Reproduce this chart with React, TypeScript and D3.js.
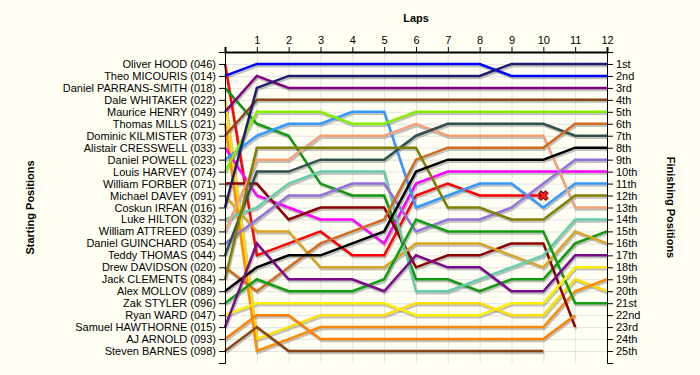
import React, { useEffect, useRef } from "react";
import * as d3 from "d3";

const drivers = [
  "Oliver HOOD (046)", "Theo MICOURIS (014)", "Daniel PARRANS-SMITH (018)", "Dale WHITAKER (022)",
  "Maurice HENRY (049)", "Thomas MILLS (021)", "Dominic KILMISTER (073)", "Alistair CRESSWELL (033)",
  "Daniel POWELL (023)", "Louis HARVEY (074)", "William FORBER (071)", "Michael DAVEY (091)",
  "Coskun IRFAN (016)", "Luke HILTON (032)", "William ATTREED (039)", "Daniel GUINCHARD (054)",
  "Teddy THOMAS (044)", "Drew DAVIDSON (020)", "Jack CLEMENTS (084)", "Alex MOLLOV (089)",
  "Zak STYLER (096)", "Ryan WARD (047)", "Samuel HAWTHORNE (015)", "AJ ARNOLD (093)", "Steven BARNES (098)",
];

const driverColors = [
  "#ff0000", "#0000ff", "#0f990f", "#ffdd00", "#800080", "#ff8a00", "#8b4513", "#ff00ff",
  "#3399ff", "#88ee00", "#8b0000", "#daa520", "#1c1c70", "#66cdaa", "#f4a07a", "#9370db",
  "#2f4f4f", "#d2691e", "#808000", "#000000", "#119f11", "#ffee00", "#7a0a8a", "#ff8000", "#8b4513",
];

// Position of each driver at laps 0..n (index = lap)
const hood = [1, 17, 16, 15, 17, 17, 12, 11, 12, 12, 12];
const micouris = [2, 1, 1, 1, 1, 1, 1, 1, 1, 2, 2, 2, 2];
const parransSmith = [3, 6, 7, 11, 12, 12, 19, 19, 20, 19, 19, 16, 15];
const whitaker = [4, 24, 23, 22, 22, 22, 21, 21, 21, 22, 22, 19, 20];
const henry = [5, 2, 3, 3, 3, 3, 3, 3, 3, 3, 3, 3, 3];
const mills = [6, 25, 24, 23, 23, 23, 23, 23, 23, 23, 23, 20, 19];
const kilmister = [7, 4, 4, 4, 4, 4, 4, 4, 4, 4, 4, 4, 4];
const cresswell = [8, 12, 13, 14, 14, 16, 11, 10, 10, 10, 10, 10, 10];
const powell = [9, 7, 6, 6, 5, 5, 13, 12, 11, 11, 13, 11, 11];
const harvey = [10, 5, 5, 5, 6, 6, 5, 5, 5, 5, 5, 5, 5];
const forber = [11, 11, 14, 13, 13, 13, 18, 17, 17, 16, 16, 23];
const davey = [12, 15, 15, 18, 18, 18, 16, 16, 16, 17, 18, 15, 16];
const irfan = [13, 3, 2, 2, 2, 2, 2, 2, 2, 1, 1, 1, 1];
const hilton = [14, 13, 11, 10, 10, 10, 20, 20, 19, 18, 17, 14, 14];
const attreed = [15, 9, 9, 7, 7, 7, 6, 7, 7, 7, 7, 13, 13];
const guinchard = [16, 14, 12, 12, 11, 11, 15, 14, 14, 13, 11, 9, 9];
const thomas = [17, 10, 10, 9, 9, 9, 7, 6, 6, 6, 6, 7, 7];
const davidson = [18, 20, 18, 16, 15, 14, 9, 8, 8, 8, 8, 6, 6];
const clements = [19, 8, 8, 8, 8, 8, 8, 13, 13, 14, 14, 12, 12];
const mollov = [20, 18, 17, 17, 16, 15, 10, 9, 9, 9, 9, 8, 8];
const styler = [21, 19, 20, 20, 20, 19, 14, 15, 15, 15, 15, 21, 21];
const ward = [22, 21, 21, 21, 21, 21, 22, 22, 22, 21, 21, 18, 18];
const hawthorne = [23, 16, 19, 19, 19, 20, 17, 18, 18, 20, 20, 17, 17];
const arnold = [24, 22, 22, 24, 24, 24, 24, 24, 24, 24, 24, 22];
const barnes = [25, 23, 25, 25, 25, 25, 25, 25, 25, 25, 25];

const lapPositions = [
  hood, micouris, parransSmith, whitaker, henry, mills, kilmister, cresswell, powell, harvey,
  forber, davey, irfan, hilton, attreed, guinchard, thomas, davidson, clements, mollov,
  styler, ward, hawthorne, arnold, barnes,
];

// drivers whose retirement is flagged with a cross
const crossed = [0];

const lapTicks = [1, 2, 3, 4, 5, 6, 7, 8, 9, 10, 11, 12];
const finishLabels = [
  "1st", "2nd", "3rd", "4th", "5th", "6th", "7th", "8th", "9th", "10th", "11th", "12th", "13th",
  "14th", "15th", "16th", "17th", "18th", "19th", "20th", "21st", "22nd", "23rd", "24th", "25th",
];

const W = 700;
const H = 375;
const left = 225;
const right = 607;
const top = 52;
const bottom = 363;
const FONT = "'Liberation Sans', Arial, sans-serif";

export default function App() {
  const xAxisRef = useRef<SVGGElement>(null);
  const yLeftRef = useRef<SVGGElement>(null);
  const yRightRef = useRef<SVGGElement>(null);

  const x = d3.scaleLinear().domain([0, 12]).range([left, right]);
  const y = d3.scaleLinear().domain([0, 26]).range([top, bottom]);
  const positions = d3.range(1, 26);

  const line = d3
    .line<number>()
    .x((_, i) => x(i))
    .y((d) => y(d));

  useEffect(() => {
    const style = (g: d3.Selection<SVGGElement, unknown, null, undefined>) => {
      g.attr("font-family", FONT).attr("font-size", 11);
      g.selectAll("text").attr("fill", "#000");
      g.selectAll("line").attr("stroke", "#000");
      g.select(".domain").attr("stroke", "#000");
    };
    const gx = d3.select(xAxisRef.current!);
    gx.call(d3.axisTop(x).tickValues(lapTicks).tickFormat(d3.format("d")).tickSize(5).tickPadding(3));
    style(gx);
    gx.select(".domain").attr("stroke-width", 2);

    const gl = d3.select(yLeftRef.current!);
    gl.call(
      d3
        .axisLeft(y)
        .tickValues(positions)
        .tickFormat((d) => drivers[(d as number) - 1])
        .tickSize(6)
        .tickPadding(3)
    );
    style(gl);

    const gr = d3.select(yRightRef.current!);
    gr.call(
      d3
        .axisRight(y)
        .tickValues(positions)
        .tickFormat((d) => finishLabels[(d as number) - 1])
        .tickSize(6)
        .tickPadding(3)
    );
    style(gr);
  }, []);

  const crossPath = d3.symbol().type(d3.symbolCross).size(55)();

  return (
    <svg width={W} height={H} style={{ display: "block", position: "absolute", left: 0, top: 0 }}>
      <rect x={0} y={0} width={W} height={H} fill="#fffff4" />
      {/* grid */}
      <g stroke="#e2e2e2" strokeWidth={1}>
        {lapTicks.map((l) => (
          <line key={"v" + l} x1={x(l) + 0.5} x2={x(l) + 0.5} y1={top} y2={bottom} />
        ))}
        {positions.map((p) => (
          <line key={"h" + p} x1={left} x2={right} y1={y(p) + 0.5} y2={y(p) + 0.5} />
        ))}
      </g>
      {/* shadows */}
      <g fill="none" stroke="#777" strokeOpacity={0.45} strokeWidth={2.5} transform="translate(1,2)">
        {lapPositions.map((d, i) => (
          <path key={"s" + i} d={line(d) || ""} />
        ))}
      </g>
      {/* lines */}
      <g fill="none" strokeWidth={2.5} strokeLinejoin="miter">
        {lapPositions.map((d, i) => (
          <path key={"l" + i} d={line(d) || ""} stroke={driverColors[i]} />
        ))}
      </g>
      {crossed.map((i) => {
        const d = lapPositions[i];
        const last = d.length - 1;
        return (
          <path
            key={"x" + i}
            d={crossPath || ""}
            transform={`translate(${x(last)},${y(d[last])}) rotate(45)`}
            fill="#ff2020"
            stroke="#800000"
            strokeWidth={1}
          />
        );
      })}
      <g ref={xAxisRef} transform={`translate(0,${top})`} />
      <g ref={yLeftRef} transform={`translate(${left},0)`} />
      <g ref={yRightRef} transform={`translate(${right},0)`} />
      <text x={(left + right) / 2} y={22} textAnchor="middle" fontFamily={FONT} fontSize={11} fontWeight="bold">
        Laps
      </text>
      <text
        transform={`translate(34,${(top + bottom) / 2}) rotate(-90)`}
        textAnchor="middle"
        fontFamily={FONT}
        fontSize={11}
        fontWeight="bold"
      >
        Starting Positions
      </text>
      <text
        transform={`translate(667,${(top + bottom) / 2}) rotate(90)`}
        textAnchor="middle"
        fontFamily={FONT}
        fontSize={11}
        fontWeight="bold"
      >
        Finishing Positions
      </text>
    </svg>
  );
}
